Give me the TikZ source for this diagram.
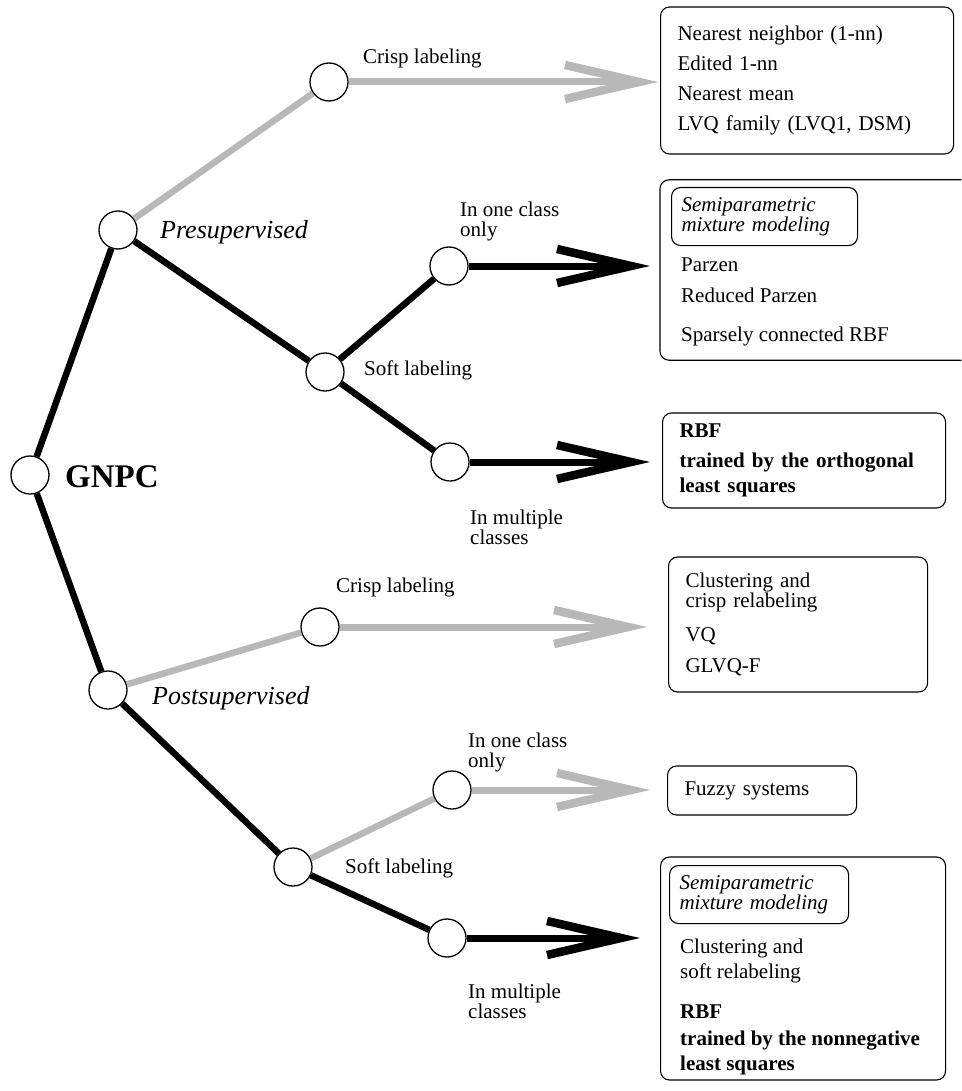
\documentclass[tikz,border=0pt]{standalone}
\usepackage{fontspec}
\setmainfont{Liberation Serif}
\usetikzlibrary{arrows.meta}

\tikzset{
  knot/.style={circle, draw, line width=1.3pt, fill=white, minimum size=38pt, inner sep=0pt},
  branch/.style={line width=6.5pt},
  faint/.style={line width=6.5pt, draw=black!28},
  bigarrow/.style={line width=7pt, -{Straight Barb[length=74pt, width=34pt, line width=8.5pt]}},
  faintarrow/.style={bigarrow, draw=black!28},
  box/.style={draw, line width=1.1pt, rounded corners=9pt, anchor=west, align=left, inner xsep=17pt, inner ysep=0pt},
  semibox/.style={draw, line width=1.1pt, rounded corners=9pt, anchor=north west, align=left, inner xsep=10pt, font=\fontsize{21}{25}\selectfont\itshape},
  lbl/.style={anchor=west, align=left, inner sep=0pt}
}

\begin{document}
\begin{tikzpicture}[x=1pt, y=-1pt, font=\fontsize{21}{25}\selectfont]
\useasboundingbox (0,0) rectangle (961,1091);

% knots of the tree
\node[knot] (gnpc)   at (30,475)  {};
\node[knot] (pre)    at (118,230) {};
\node[knot] (crisp1) at (329,82)  {};
\node[knot] (soft1)  at (325,372) {};
\node[knot] (one1)   at (449,266) {};
\node[knot] (multi1) at (450,462) {};
\node[knot] (post)   at (108,690) {};
\node[knot] (crisp2) at (320,627) {};
\node[knot] (soft2)  at (293,867) {};
\node[knot] (one2)   at (452,790) {};
\node[knot] (multi2) at (447,938) {};

% labels
\node[lbl] (gnpcl) at (65,477) {\fontsize{33}{33}\selectfont\bfseries GNPC};
\node[lbl] (prel) at (160,232) {\fontsize{26}{26}\selectfont\itshape Presupervised};
\node[lbl] (postl) at (152,698) {\fontsize{26}{26}\selectfont\itshape Postsupervised};
\node[lbl] (crisp1l) at (363,58) {Crisp labeling};
\node[lbl] (one1l) at (460,221) {In one class\\[-5pt]only};
\node[lbl] (soft1l) at (364,370) {Soft labeling};
\node[lbl] (multi1l) at (470,527) {In multiple\\[-5pt]classes};
\node[lbl] (crisp2l) at (336,587) {Crisp labeling};
\node[lbl] (one2l) at (468,752) {In one class\\[-5pt]only};
\node[lbl] (soft2l) at (345,868) {Soft labeling};
\node[lbl] (multi2l) at (468,1001) {In multiple\\[-5pt]classes};

% result boxes
\node[box, text width=259pt, minimum height=147pt] (nn) at (660,80.5)
  {Nearest neighbor (1-nn)\\[5pt]Edited 1-nn\\[5pt]Nearest mean\\[5pt]LVQ family (LVQ1, DSM)};

\node[anchor=west, minimum width=301pt, minimum height=180pt, inner sep=0pt] (parzen) at (660,270) {};
\draw[line width=1.1pt, rounded corners=9pt] (parzen.north east) -- (parzen.north west)
  -- (parzen.south west) -- (parzen.south east);
\node[semibox, text width=166pt, minimum height=58pt] (semi1) at (671,187)
  {Semiparametric\\[-5pt]mixture modeling};
\node[lbl] (parzenl) at (681,302) {Parzen\\[6pt]Reduced Parzen\\[14pt]Sparsely connected RBF};

\node[box, text width=249pt, minimum height=95pt, font=\fontsize{21}{25}\selectfont\bfseries] (olsq) at (662,460.5)
  {RBF\\[5pt]trained by the orthogonal\\least squares};

\node[box, text width=225pt, minimum height=135pt] (relab) at (668,624.5)
  {Clustering and\\[-5pt]crisp relabeling\\[9pt]VQ\\[6pt]GLVQ-F};

\node[box, text width=155pt, minimum height=49pt] (fuzzy) at (667,790.5) {Fuzzy systems};

\node[box, minimum width=285pt, minimum height=223pt] (nnls) at (660,968.5) {};
\node[semibox, text width=159pt, minimum height=58pt] (semi2) at (669,865)
  {Semiparametric\\[-5pt]mixture modeling};
\node[lbl] (nnlsl) at (680,1006.5)
  {Clustering and\\soft relabeling\\[15pt]\textbf{RBF}\\[2pt]\textbf{trained by the nonnegative}\\\textbf{least squares}};

% branches
\draw[branch] (gnpc) -- (pre);
\draw[branch] (gnpc) -- (post);
\draw[faint] (pre) -- (crisp1);
\draw[branch] (pre) -- (soft1);
\draw[branch] (soft1) -- (one1);
\draw[branch] (soft1) -- (multi1);
\draw[faint] (post) -- (crisp2);
\draw[branch] (post) -- (soft2);
\draw[faint] (soft2) -- (one2);
\draw[branch] (soft2) -- (multi2);

% arrows to the boxes
\draw[faintarrow, shorten >=2pt] (crisp1) -- (crisp1 -| nn.west);
\draw[bigarrow, shorten >=10pt] (one1) -- (one1 -| parzen.west);
\draw[bigarrow, shorten >=12pt] (multi1) -- (multi1 -| olsq.west);
\draw[faintarrow, shorten >=21pt] (crisp2) -- (crisp2 -| relab.west);
\draw[faintarrow, shorten >=17pt] (one2) -- (one2 -| fuzzy.west);
\draw[bigarrow, shorten >=20pt] (multi2) -- (multi2 -| nnls.west);
\end{tikzpicture}
\end{document}
